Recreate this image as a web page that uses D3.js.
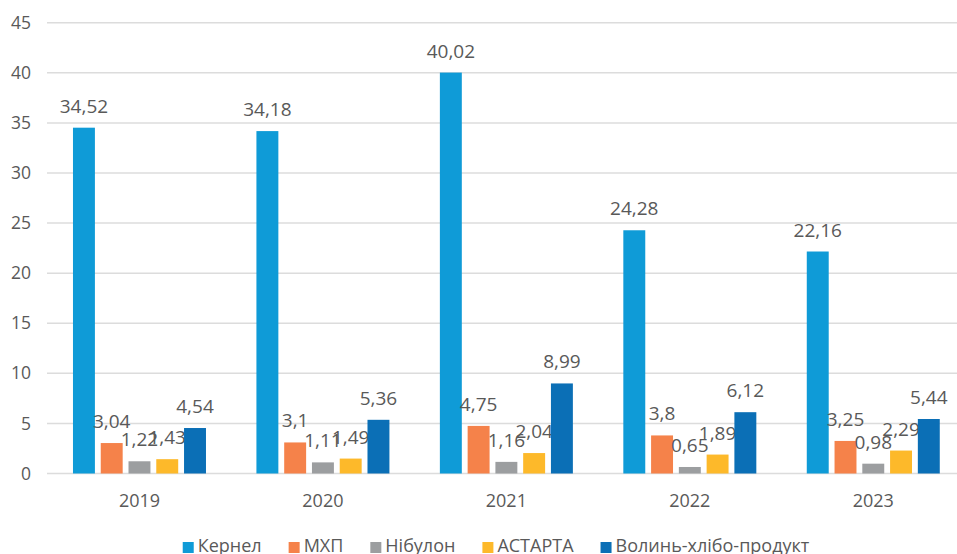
<!DOCTYPE html>
<html>
<head>
<meta charset="utf-8">
<script src="https://cdn.jsdelivr.net/npm/d3@7"></script>
<style>
  html, body { margin: 0; padding: 0; background: #fff; }
  svg text { font-family: "Open Sans", "Noto Sans", sans-serif; fill: #595959; }
</style>
</head>
<body>
<div id="chart"></div>
<script>
// дані
const years = ["2019", "2020", "2021", "2022", "2023"];
const companies = ["Кернел", "МХП", "Нібулон", "АСТАРТА", "Волинь-хлібо-продукт"];
const kernel = [34.52, 34.18, 40.02, 24.28, 22.16];
const mhp = [3.04, 3.1, 4.75, 3.8, 3.25];
const nibulon = [1.22, 1.11, 1.16, 0.65, 0.98];
const astarta = [1.43, 1.49, 2.04, 1.89, 2.29];
const volyn = [4.54, 5.36, 8.99, 6.12, 5.44];
const yTicks = [0, 5, 10, 15, 20, 25, 30, 35, 40, 45];
const colors = ["#0f9bd7", "#f5824a", "#9c9ea0", "#fdb92a", "#0b6fb6"];

const seriesValues = [kernel, mhp, nibulon, astarta, volyn];

const width = 957, height = 554;
const svg = d3.select("#chart").append("svg")
    .attr("width", width).attr("height", height);

const x0 = d3.scaleBand().domain(years).range([47.75, 965]).padding(0);
const x1 = d3.scaleBand().domain(companies).range([-66.5, 66.5]).paddingInner(0.21);
const y = d3.scaleLinear().domain([0, 45]).range([473.5, 22.7]);

// сітка
svg.append("g")
    .selectAll("line")
    .data(yTicks)
    .join("line")
    .attr("x1", 47).attr("x2", width)
    .attr("y1", d => y(d)).attr("y2", d => y(d))
    .attr("stroke", "#dcdcdc")
    .attr("stroke-width", 1.5);

// підписи осі Y
svg.append("g")
    .selectAll("text")
    .data(yTicks)
    .join("text")
    .attr("x", 31)
    .attr("y", d => y(d))
    .attr("dy", "0.35em")
    .attr("text-anchor", "end")
    .style("font-size", "17.5px")
    .text(d => d);

// стовпці
const groups = svg.append("g")
    .selectAll("g")
    .data(years)
    .join("g")
    .attr("transform", d => `translate(${x0(d) + x0.bandwidth() / 2},0)`);

const cells = groups.selectAll("g")
    .data((yr, i) => companies.map((c, j) => ({ company: c, value: seriesValues[j][i], color: colors[j] })))
    .join("g");

cells.append("rect")
    .attr("x", d => x1(d.company))
    .attr("width", x1.bandwidth())
    .attr("y", d => y(d.value))
    .attr("height", d => y(0) - y(d.value))
    .attr("fill", d => d.color);

cells.append("text")
    .attr("x", d => x1(d.company) + x1.bandwidth() / 2)
    .attr("y", d => y(d.value) - 15)
    .attr("text-anchor", "middle")
    .style("font-size", "19px")
    .text(d => String(d.value).replace(".", ","));

// підписи осі X
svg.append("g")
    .selectAll("text")
    .data(years)
    .join("text")
    .attr("x", d => x0(d) + x0.bandwidth() / 2)
    .attr("y", 507)
    .attr("text-anchor", "middle")
    .style("font-size", "18px")
    .text(d => d);

// легенда
const legend = svg.append("g");
let lx = 0;
companies.forEach((c, i) => {
    const item = legend.append("g").attr("transform", `translate(${lx},0)`);
    item.append("rect").attr("x", 0).attr("y", 542).attr("width", 11).attr("height", 11).attr("fill", colors[i]);
    const t = item.append("text").attr("x", 15).attr("y", 552).style("font-size", "18px").text(c);
    lx += 15 + t.node().getComputedTextLength() + 27;
});
lx -= 27;
legend.attr("transform", `translate(${496 - lx / 2},0)`);
</script>
</body>
</html>
